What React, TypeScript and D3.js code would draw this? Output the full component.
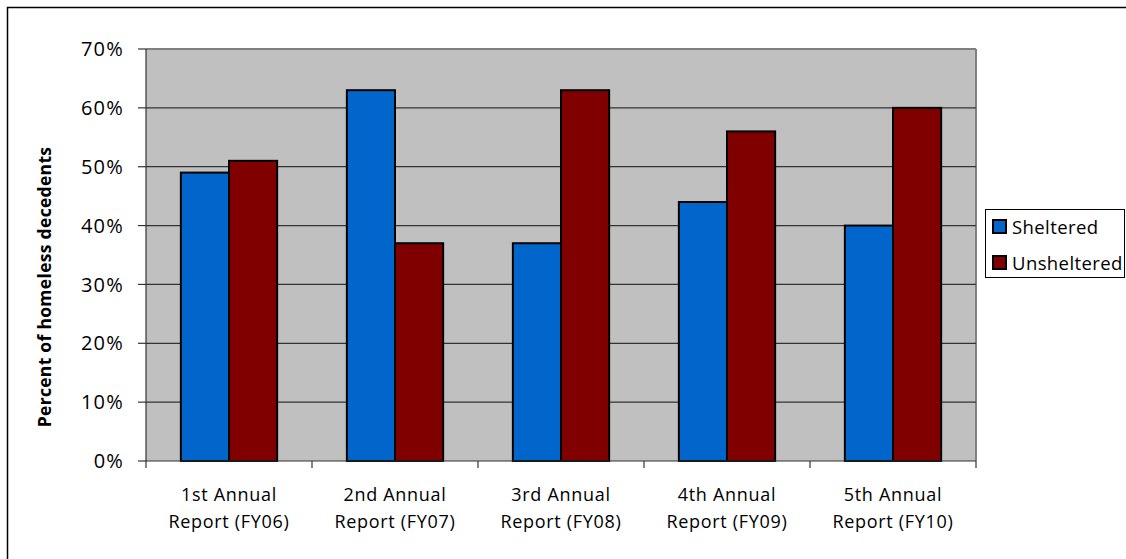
import React from "react";
import * as d3 from "d3";

const categories = [
  ["1st Annual", "Report (FY06)"],
  ["2nd Annual", "Report (FY07)"],
  ["3rd Annual", "Report (FY08)"],
  ["4th Annual", "Report (FY09)"],
  ["5th Annual", "Report (FY10)"],
];
const sheltered = [49, 63, 37, 44, 40];
const unsheltered = [51, 37, 63, 56, 60];
const seriesNames = ["Sheltered", "Unsheltered"];
const seriesColors = ["#0066CC", "#800000"];
const yTicks = [0, 10, 20, 30, 40, 50, 60, 70];

const W = 1126;
const H = 559;
const FONT = "'Open Sans', Lato, sans-serif";

export default function App() {
  const left = 146, right = 976, top = 49, bottom = 461;
  const x = d3.scaleBand<number>().domain(d3.range(categories.length)).range([left, right]).paddingInner(0).paddingOuter(0);
  const y = d3.scaleLinear().domain([0, 70]).range([bottom, top]);
  const bw = x.bandwidth();
  const barW = bw * 0.29;
  const series = [sheltered, unsheltered];

  return (
    <svg width={W} height={H} style={{ position: "absolute", left: 0, top: 0, background: "#fff" }} fontFamily={FONT}>
      <rect x={7.5} y={7.5} width={W + 10} height={H + 10} fill="#fff" stroke="#000" strokeWidth={1.5} />
      <rect x={left} y={top} width={right - left} height={bottom - top} fill="#C0C0C0" />
      <line x1={left} x2={right} y1={top} y2={top} stroke="#808080" strokeWidth={2} />
      <line x1={right} x2={right} y1={top} y2={bottom} stroke="#808080" strokeWidth={2} />
      {yTicks.filter((t) => t > 0 && t < 70).map((t) => (
        <line key={t} x1={left} x2={right} y1={y(t)} y2={y(t)} stroke="#333" strokeWidth={1.2} />
      ))}
      {series.map((vals, si) =>
        vals.map((v, i) => {
          const cx = (x(i) as number) + bw / 2;
          const bx = si === 0 ? cx - barW : cx;
          return (
            <rect key={`${si}-${i}`} x={bx} y={y(v)} width={barW} height={bottom - y(v)}
              fill={seriesColors[si]} stroke="#000" strokeWidth={2} />
          );
        })
      )}
      <line x1={left} x2={left} y1={top} y2={bottom} stroke="#333" strokeWidth={1.2} />
      <line x1={left} x2={right} y1={bottom} y2={bottom} stroke="#333" strokeWidth={1.2} />
      {yTicks.map((t) => (
        <g key={t}>
          <line x1={left - 8} x2={left} y1={y(t)} y2={y(t)} stroke="#333" strokeWidth={1.2} />
          <text x={124} y={y(t)} dy="0.36em" textAnchor="end" fontSize={20} letterSpacing={1.2} fill="#000">{t}%</text>
        </g>
      ))}
      {d3.range(categories.length + 1).map((i) => {
        const xx = left + i * bw;
        return <line key={i} x1={xx} x2={xx} y1={bottom} y2={bottom + 7} stroke="#333" strokeWidth={1.2} />;
      })}
      {categories.map((c, i) => {
        const cx = (x(i) as number) + bw / 2;
        return (
          <text key={i} x={cx} textAnchor="middle" fontSize={18} letterSpacing={0.7} fill="#000">
            <tspan x={cx} y={501}>{c[0]}</tspan>
            <tspan x={cx} y={528}>{c[1]}</tspan>
          </text>
        );
      })}
      <text transform={`translate(51,${287}) rotate(-90)`} textAnchor="middle" fontSize={17.5} letterSpacing={0.3} fontWeight="bold" fill="#000">
        Percent of homeless decedents
      </text>
      <rect x={985.5} y={209.5} width={139} height={68} fill="#fff" stroke="#000" strokeWidth={1} />
      {seriesNames.map((n, i) => (
        <g key={n}>
          <rect x={993} y={220 + i * 36} width={13} height={13} fill={seriesColors[i]} stroke="#000" strokeWidth={2} />
          <text x={1012} y={227 + i * 36} dy="0.36em" fontSize={18.5} letterSpacing={0.4} fill="#000">{n}</text>
        </g>
      ))}
    </svg>
  );
}
